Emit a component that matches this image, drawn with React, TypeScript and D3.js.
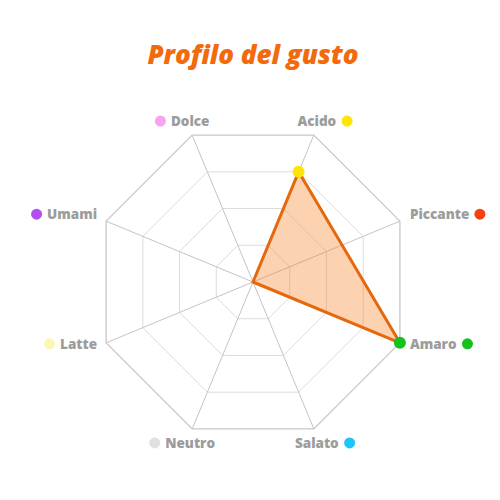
import React, { useEffect, useRef } from "react";
import * as d3 from "d3";

const categories = ["Dolce", "Acido", "Piccante", "Amaro", "Salato", "Neutro", "Latte", "Umami"];
// null = not rated (skipped by the outline)
const values: (number | null)[] = [0, 3, null, 4, 0, 0, 0, 0];
const dotColors = ["#f5a3f2", "#ffe600", "#f5400f", "#14c21c", "#1ec6f7", "#e0e0e0", "#fbf6b4", "#b14ff0"];
const gridLevels = [1, 2, 3, 4];
const maxValue = 4;
const title = "Profilo del gusto";

const W = 500;
const H = 500;
const CX = 253;
const CY = 282;
const R = 159;
const FONT = "'Open Sans', Lato, sans-serif";

export default function App() {
  const ref = useRef<SVGSVGElement>(null);

  useEffect(() => {
    document.body.style.margin = "0";
    const svg = d3.select(ref.current);
    svg.selectAll("*").remove();

    const n = categories.length;
    const angle = (i: number) => ((i - 0.5) * 2 * Math.PI) / n;
    const r = d3.scaleLinear().domain([0, maxValue]).range([0, R]);
    const pt = (i: number, v: number): [number, number] => [
      CX + r(v) * Math.sin(angle(i)),
      CY - r(v) * Math.cos(angle(i)),
    ];

    const g = svg.append("g");

    g.append("text")
      .attr("x", CX)
      .attr("y", 64)
      .attr("text-anchor", "middle")
      .attr("font-family", FONT)
      .attr("font-weight", 800)
      .attr("font-style", "italic")
      .attr("font-size", 26)
      .attr("fill", "#f26a0c")
      .text(title);

    const line = d3.line<[number, number]>().curve(d3.curveLinearClosed);
    gridLevels.forEach((lv) => {
      const pts = categories.map((_, i) => pt(i, lv));
      g.append("path")
        .attr("d", line(pts))
        .attr("fill", "none")
        .attr("stroke", lv === maxValue ? "#c8c8c8" : "#dcdcdc")
        .attr("stroke-width", lv === maxValue ? 1.3 : 1);
    });
    categories.forEach((_, i) => {
      const [x, y] = pt(i, maxValue);
      g.append("line")
        .attr("x1", CX)
        .attr("y1", CY)
        .attr("x2", x)
        .attr("y2", y)
        .attr("stroke", "#c4c4c4")
        .attr("stroke-width", 1);
    });

    const dataPts = values
      .map((v, i) => (v === null ? null : pt(i, v)))
      .filter((p): p is [number, number] => p !== null);
    g.append("path")
      .attr("d", line(dataPts))
      .attr("fill", "rgba(246,130,40,0.36)")
      .attr("stroke", "#e5680e")
      .attr("stroke-width", 3)
      .attr("stroke-linejoin", "round");

    values.forEach((v, i) => {
      if (v === null || v <= 0) return;
      const [x, y] = pt(i, v);
      g.append("circle").attr("cx", x).attr("cy", y).attr("r", 6).attr("fill", dotColors[i]);
    });

    categories.forEach((c, i) => {
      const [vx, vy] = pt(i, maxValue);
      const right = vx > CX;
      const isSide = i === 2 || i === 3 || i === 6 || i === 7;
      const t = g
        .append("text")
        .attr("font-family", FONT)
        .attr("font-weight", 800)
        .attr("font-size", 13.5)
        .attr("fill", "#9c9c9c")
        .text(c);
      let baseline: number;
      if (isSide) {
        baseline = vy < CY ? vy - 2 : vy + 6;
        if (right) t.attr("x", vx + 10).attr("text-anchor", "start");
        else t.attr("x", vx - 9).attr("text-anchor", "end");
      } else {
        baseline = vy < CY ? vy - 9 : vy + 19;
        t.attr("x", vx + (right ? 3 : -2)).attr("text-anchor", "middle");
      }
      t.attr("y", baseline);
      const bb = (t.node() as SVGTextElement).getBBox();
      const dx = right ? bb.x + bb.width + 10.5 : bb.x - 10.5;
      g.append("circle")
        .attr("cx", dx)
        .attr("cy", baseline - 5)
        .attr("r", 5.5)
        .attr("fill", dotColors[i]);
    });
  }, []);

  return <svg ref={ref} width={W} height={H} style={{ display: "block", background: "#fff" }} />;
}
